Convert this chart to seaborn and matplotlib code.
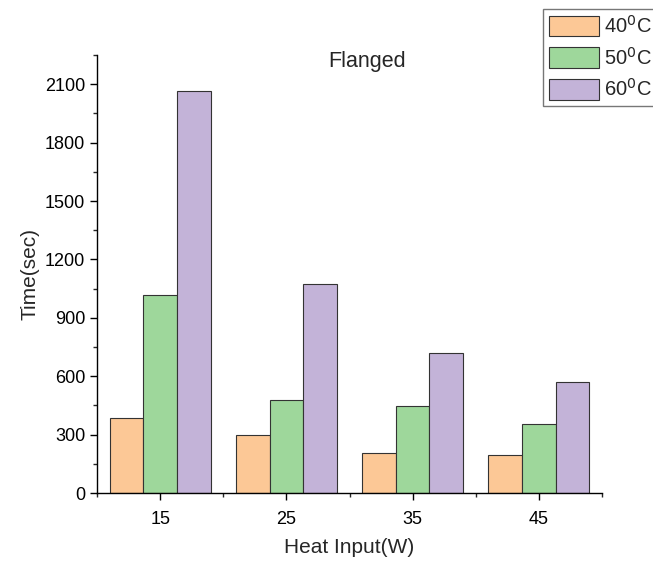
import matplotlib
matplotlib.use("Agg")
import matplotlib.pyplot as plt
from matplotlib.ticker import MultipleLocator, FixedLocator
import seaborn as sns
import pandas as pd

heat_inputs = ["15", "25", "35", "45"]
temps = ["40$^0$C", "50$^0$C", "60$^0$C"]
time_40 = [385, 296, 207, 197]
time_50 = [1017, 477, 449, 356]
time_60 = [2066, 1075, 720, 568]
colors = ["#FCC896", "#9ED79B", "#C3B3D8"]

rows = []
for t, vals in zip(temps, [time_40, time_50, time_60]):
    for h, v in zip(heat_inputs, vals):
        rows.append({"Heat Input(W)": h, "Time(sec)": v, "Temp": t})
df = pd.DataFrame(rows)

sns.set_style("ticks")
plt.rcParams["font.family"] = ["Liberation Sans", "DejaVu Sans"]

fig = plt.figure(figsize=(6.53, 5.63), dpi=100)
ax = fig.add_axes([97/653, 1-493/563, (602-97)/653, (493-55)/563])

sns.barplot(data=df, x="Heat Input(W)", y="Time(sec)", hue="Temp",
            palette=colors, edgecolor="#333333", linewidth=0.8,
            width=0.8, gap=0, ax=ax, saturation=1, errorbar=None)

ax.set_xlim(-0.5, 3.5)
ax.set_ylim(0, 2250)
ax.yaxis.set_major_locator(MultipleLocator(300))
ax.yaxis.set_minor_locator(MultipleLocator(150))
ax.xaxis.set_minor_locator(FixedLocator([-0.5, 0.5, 1.5, 2.5, 3.5]))
ax.tick_params(axis="both", which="major", direction="out", length=5, width=1, labelsize=13, colors="black")
ax.tick_params(axis="x", which="major", pad=8)
ax.tick_params(axis="both", which="minor", direction="out", length=3, width=1)
for s in ["top", "right"]:
    ax.spines[s].set_visible(False)
for s in ["left", "bottom"]:
    ax.spines[s].set_color("black")
    ax.spines[s].set_linewidth(1)

ax.set_xlabel("Heat Input(W)", fontsize=15, labelpad=7)
ax.set_ylabel("Time(sec)", fontsize=15, labelpad=4)
ax.text(0.535, 1.008, "Flanged", transform=ax.transAxes, ha="center", va="top", fontsize=15.5)

ax.legend_.remove()
handles, labels = ax.get_legend_handles_labels()
leg = fig.legend(handles, labels, loc="upper left", bbox_to_anchor=(543/653, 1-9/563),
                 fontsize=14.5, frameon=True, fancybox=False, edgecolor="#555555",
                 handlelength=2.5, handleheight=1.2, labelspacing=0.48,
                 borderpad=0.3, handletextpad=0.25, borderaxespad=0)
leg.get_frame().set_linewidth(1)

fig.savefig("out.png", dpi=100)
